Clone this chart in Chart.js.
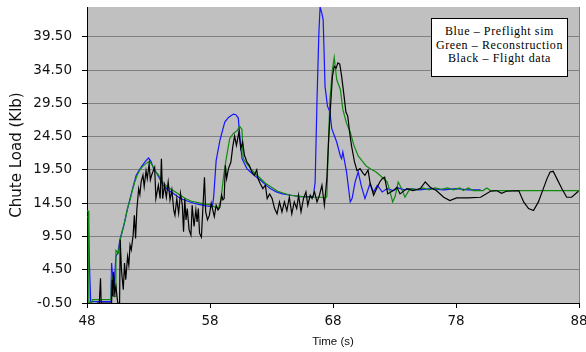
<!DOCTYPE html>
<html>
<head>
<meta charset="utf-8">
<script src="https://cdn.jsdelivr.net/npm/chart.js@4/dist/chart.umd.min.js"></script>
<style>
    html, body {margin: 0; padding: 0; background: #fff;}
    #wrap {position: relative; width: 586px; height: 352px;}
    #key {
        position  : absolute;
        left      : 431px;
        top       : 18px;
        width     : 135px;
        height    : 51px;
        border    : 1px solid #000;
        background: #fff;
        font      : 12px "Liberation Serif", serif;
        line-height: 13.5px;
        text-align: center;
        padding-top: 6px;
        box-sizing: content-box;
    }
    #key div {letter-spacing: 0.6px; white-space: nowrap;}
</style>
</head>
<body>
<div id="wrap">
    <canvas id="chart" width="586" height="352"></canvas>
    <div id="key">
        <div>Blue – Preflight sim</div>
        <div>Green – Reconstruction</div>
        <div>Black – Flight data</div>
    </div>
</div>
<script>
// axis ticks
const xTicks = [48, 58, 68, 78, 88];
const yTicks = [-0.5, 4.5, 9.5, 14.5, 19.5, 24.5, 29.5, 34.5, 39.5];

// Blue - preflight sim
const blueT = [48.0, 48.1, 48.2, 48.3, 49.95, 50.0, 50.1, 50.2, 50.35, 50.5, 50.7, 51.0, 51.25, 51.5, 51.75, 52.0,
    52.25, 52.5, 52.75, 53.0, 53.2, 53.4, 53.7, 54.2, 54.6, 55.0, 55.6, 56.2, 56.7, 57.2, 57.7, 58.2, 58.3, 58.5,
    58.8, 59.2, 59.5, 59.9, 60.1, 60.3, 60.45, 60.6, 61.0, 61.4, 61.8, 62.1, 62.5, 62.9, 63.4, 63.9, 64.6, 65.3,
    66.0, 66.4, 66.55, 66.7, 66.85, 66.95, 67.1, 67.2, 67.27, 67.35, 67.55, 67.75, 67.9, 68.3, 68.6, 68.7, 68.8,
    69.1, 69.4, 69.55, 69.8, 70.05, 70.3, 70.6, 71.0, 71.3, 71.6, 72.0, 72.4, 72.9, 73.3, 73.8, 74.3, 75.0, 76.0,
    77.0, 78.0, 79.0, 80.0];
const blueV = [12.5, 12.5, 5.2, -0.3, -0.3, 5.5, 3.0, 2.0, 6.5, 7.0, 9.2, 11.2, 13.3, 15.2, 17.0, 18.7,
    19.5, 20.2, 20.8, 21.3, 20.8, 19.8, 18.9, 17.2, 16.5, 16.0, 15.2, 14.8, 14.5, 14.3, 14.1, 14.0, 15.5, 20.9,
    23.9, 26.7, 27.4, 27.9, 27.8, 27.3, 24.0, 21.2, 19.7, 19.0, 18.4, 18.0, 17.3, 16.7, 16.2, 15.9, 15.7, 15.5,
    15.5, 15.5, 17.7, 30.1, 40.0, 44.0, 43.0, 42.1, 37.6, 32.1, 29.1, 28.2, 25.7, 23.7, 21.6, 21.2, 22.2,
    19.2, 14.7, 15.2, 17.7, 19.2, 17.1, 15.2, 17.4, 16.2, 17.2, 16.2, 16.7, 16.4, 16.8, 16.5, 16.7, 16.5, 16.7,
    16.5, 16.7, 16.5, 16.5];

// Green - reconstruction
const greenT = [48.0, 48.12, 48.15, 48.4, 48.45, 49.95, 50.0, 50.1, 50.15, 50.3, 50.35, 50.55, 50.7, 50.9, 51.1,
    51.3, 51.5, 51.7, 51.9, 52.1, 52.3, 52.5, 52.7, 52.9, 53.1, 53.3, 53.5, 53.8, 54.1, 54.5, 55.0, 55.5, 56.0,
    56.5, 57.0, 57.5, 58.0, 58.4, 58.7, 58.9, 59.1, 59.3, 59.6, 59.9, 60.2, 60.4, 60.6, 60.7, 61.0, 61.3, 61.7,
    62.0, 62.5, 63.0, 63.5, 64.0, 64.5, 65.0, 65.5, 66.0, 66.5, 67.0, 67.4, 67.5, 67.6, 67.75, 67.95, 68.1, 68.3,
    68.6, 68.8, 69.1, 69.4, 69.7, 70.05, 70.4, 70.7, 71.1, 71.5, 72.0, 72.4, 72.6, 72.85, 73.05, 73.3, 73.55,
    73.85, 74.1, 74.3, 74.8, 75.3, 75.8, 76.3, 76.8, 77.3, 77.8, 78.3, 78.6, 79.0, 79.4, 80.2, 80.5, 80.8, 88.0];
const greenV = [13.3, 13.3, -0.4, -0.4, 0.0, 0.0, 3.7, 3.0, 0.5, 0.5, 7.4, 7.0, 9.0, 10.5, 12.0,
    13.8, 15.0, 16.5, 17.8, 18.8, 19.5, 20.0, 20.3, 20.6, 20.8, 20.2, 19.4, 18.8, 17.8, 17.0, 16.4, 15.8, 15.2,
    14.8, 14.6, 14.4, 14.3, 13.9, 13.8, 15.2, 18.5, 21.0, 24.2, 25.0, 25.4, 26.1, 25.6, 21.2, 20.4, 19.7, 18.9,
    18.4, 17.5, 16.9, 16.3, 16.0, 15.7, 15.6, 15.5, 15.4, 15.4, 15.4, 15.3, 15.5, 22.0, 30.1, 34.5, 36.4, 33.1,
    31.6, 28.6, 26.5, 25.2, 23.2, 21.6, 20.8, 20.1, 19.6, 19.2, 18.4, 17.7, 16.5, 14.7, 15.5, 17.7, 16.8,
    15.4, 16.2, 16.7, 16.5, 16.8, 16.5, 16.8, 16.6, 16.8, 16.5, 16.8, 16.4, 16.8, 16.4, 16.4, 16.8, 16.4, 16.4];

// Black - flight data
const blackT = [48.8, 49.0, 49.1, 49.15, 50.0, 50.05, 50.1, 50.15, 50.25, 50.35, 50.5, 50.65, 50.7, 50.8, 50.95,
    51.05, 51.15, 51.3, 51.4, 51.5, 51.6, 51.75, 51.85, 51.95, 52.05, 52.2, 52.3, 52.4, 52.55, 52.65, 52.8, 52.9,
    53.05, 53.15, 53.25, 53.5, 53.6, 53.8, 53.95, 54.05, 54.15, 54.3, 54.45, 54.6, 54.75, 54.9, 55.05, 55.15,
    55.3, 55.45, 55.6, 55.75, 55.85, 55.95, 56.05, 56.15, 56.3, 56.45, 56.55, 56.7, 56.85, 56.95, 57.05, 57.15,
    57.3, 57.4, 57.55, 57.65, 57.8, 57.95, 58.1, 58.2, 58.35, 58.5, 58.65, 58.8, 58.95, 59.05, 59.15, 59.25,
    59.35, 59.5, 59.7, 59.85, 60.0, 60.15, 60.35, 60.5, 60.65, 60.8, 61.0, 61.2, 61.4, 61.6, 61.8, 61.9, 62.1,
    62.3, 62.5, 62.65, 62.85, 63.05, 63.25, 63.45, 63.65, 63.85, 64.05, 64.25, 64.45, 64.65, 64.85, 65.05, 65.2,
    65.4, 65.6, 65.8, 65.95, 66.15, 66.3, 66.5, 66.7, 66.9, 67.1, 67.3, 67.5, 67.65, 67.8, 67.95, 68.1, 68.25,
    68.4, 68.55, 68.7, 68.9, 69.05, 69.2, 69.35, 69.5, 69.75, 69.95, 70.2, 70.45, 70.6, 70.85, 71.0, 71.3,
    71.55, 71.8, 72.0, 72.2, 72.45, 72.9, 73.2, 73.45, 74.0, 74.5, 75.1, 75.5, 75.9, 76.4, 77.0, 77.5, 78.05,
    79.0, 80.0, 80.8, 81.3, 81.7, 82.1, 83.1, 83.5, 83.9, 84.3, 84.7, 85.1, 85.4, 85.65, 85.9, 86.2, 86.6,
    87.0, 87.4, 87.95];
const blackV = [-0.5, -0.5, 3.2, -0.5, -0.5, 3.0, 0.5, 4.2, 1.0, 2.0, -0.5, -0.5, 9.0, 4.5, 1.5,
    5.5, 3.0, 6.5, 5.2, 8.2, 7.5, 9.7, 12.7, 9.2, 13.5, 16.7, 15.8, 17.7, 18.7, 17.0, 19.4, 18.2,
    20.4, 18.0, 18.7, 19.9, 15.2, 17.2, 15.2, 21.2, 15.2, 17.2, 15.4, 17.7, 15.0, 16.5, 13.5, 12.7,
    15.2, 13.0, 16.0, 14.2, 10.2, 15.2, 12.0, 13.7, 10.5, 9.7, 14.2, 11.0, 13.5, 11.7, 13.7, 10.0,
    9.4, 13.0, 18.4, 13.2, 12.0, 12.7, 14.5, 13.7, 12.5, 14.2, 13.5, 13.9, 15.7, 15.0, 15.2, 20.2,
    18.2, 19.7, 20.7, 23.0, 24.6, 23.2, 25.2, 22.7, 23.7, 21.7, 20.7, 20.2, 19.2, 18.7, 19.5, 18.2, 17.4,
    16.7, 17.2, 15.2, 15.9, 15.2, 13.7, 12.9, 14.7, 13.2, 14.7, 13.4, 15.4, 12.9, 14.7, 13.7, 15.7,
    13.2, 15.2, 16.2, 14.2, 15.7, 15.2, 16.2, 14.7, 15.7, 17.2, 14.2, 18.2, 24.2, 29.1, 33.5, 35.1, 34.8,
    35.6, 35.4, 33.6, 30.6, 28.2, 27.6, 25.2, 23.2, 20.7, 19.4, 19.7, 19.0, 18.7, 19.5, 17.7, 15.7,
    16.7, 17.7, 18.2, 18.4, 15.9, 16.4, 16.9, 15.9, 16.7, 16.4, 16.7, 17.7, 16.9, 16.4, 15.4, 14.9, 15.3,
    15.3, 15.4, 16.3, 16.4, 16.0, 16.3, 16.4, 14.7, 13.7, 13.4, 14.7, 16.7, 18.2, 19.2, 19.3, 18.2, 16.7,
    15.4, 15.4, 16.3];

const pts = (t, v) => t.map((x, i) => ({x, y: v[i]}));

const plotBack = {
    id: 'plotBack',
    beforeDraw(chart) {
        const {ctx, chartArea: a} = chart;
        ctx.save();
        ctx.fillStyle = '#c0c0c0';
        ctx.fillRect(a.left, a.top, a.right - a.left, a.bottom - a.top);
        ctx.restore();
    },
    afterDraw(chart) {
        const {ctx, chartArea: a} = chart;
        ctx.save();
        ctx.strokeStyle = '#808080';
        ctx.lineWidth = 1;
        ctx.beginPath();
        ctx.moveTo(a.right + 0.5, a.top);
        ctx.lineTo(a.right + 0.5, a.bottom);
        ctx.stroke();
        ctx.restore();
    }
};

const line = (label, t, v, color) => ({
    label,
    data       : pts(t, v),
    borderColor: color,
    borderWidth: 1.2,
    pointRadius: 0,
    tension    : 0
});

const tickFont = {family: '"DejaVu Sans", sans-serif', size: 13.5};

new Chart(document.getElementById('chart'), {
    type: 'line',
    data: {
        datasets: [
            line('Flight data',    blackT, blackV, '#000000'),
            line('Reconstruction', greenT, greenV, '#0f8a0f'),
            line('Preflight sim',  blueT,  blueV,  '#1515ff')
        ]
    },
    options: {
        responsive: false,
        animation : false,
        layout    : {padding: {top: 7, right: 7, left: 0, bottom: 0}},
        plugins   : {legend: {display: false}, tooltip: {enabled: false}},
        scales    : {
            x: {
                type  : 'linear',
                min   : xTicks[0],
                max   : xTicks[xTicks.length - 1],
                afterBuildTicks: s => {s.ticks = xTicks.map(value => ({value}))},
                afterFit: s => {
                    s.height       = 49;
                    s.paddingLeft  = 0;
                    s.paddingRight = 0;
                },
                border: {color: '#000', width: 1},
                grid  : {drawOnChartArea: false, tickColor: '#000', tickLength: 5},
                ticks : {font: tickFont, color: '#111', padding: 5, maxRotation: 0},
                title : {display: true, text: 'Time (s)', color: '#111',
                         font: {family: '"Liberation Sans", Arial, sans-serif', size: 11.5},
                         padding: {top: 0, bottom: 3}}
            },
            y: {
                min   : -0.5,
                max   : 44,
                afterBuildTicks: s => {s.ticks = yTicks.map(value => ({value}))},
                afterFit: s => {
                    s.width         = 87;
                    s.paddingTop    = 0;
                    s.paddingBottom = 0;
                },
                border: {color: '#000', width: 1},
                grid  : {color: '#808080', tickColor: '#000', tickLength: 5},
                ticks : {font: tickFont, color: '#111', padding: 10,
                         callback: v => v.toFixed(2)},
                title : {display: true, text: 'Chute Load (Klb)', color: '#111',
                         font: {family: '"DejaVu Sans", sans-serif', size: 15},
                         padding: {top: 8, bottom: 0}}
            }
        }
    },
    plugins: [plotBack]
});
</script>
</body>
</html>
